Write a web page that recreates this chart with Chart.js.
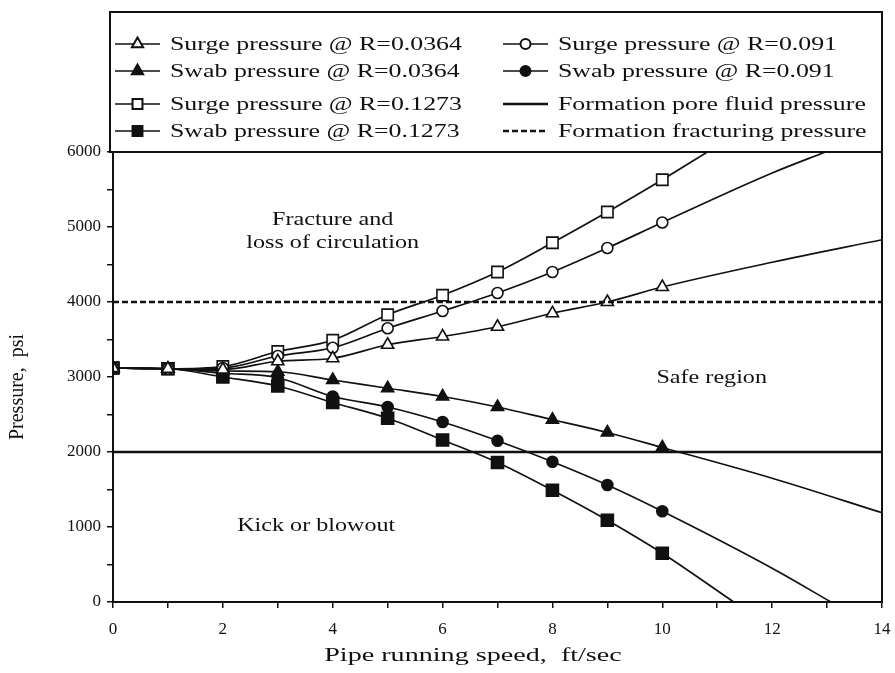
<!DOCTYPE html>
<html>
<head>
<meta charset="utf-8">
<script src="https://cdn.jsdelivr.net/npm/chart.js@4.4.1/dist/chart.umd.min.js"></script>
<style>
  html, body { margin: 0; padding: 0; background: #fff; }
  #wrap { width: 895px; height: 673px; position: relative; }
</style>
</head>
<body>
<div id="wrap"><canvas id="c" width="895" height="673"></canvas></div>
<script>
// pipe running speed, ft/sec (points with markers)
var SPEED = [0, 1, 2, 3, 4, 5, 6, 7, 8, 9, 10];
// pressure, psi
var SURGE_0364 = [3120, 3110, 3100, 3210, 3250, 3430, 3540, 3670, 3850, 4000, 4200];
var SWAB_0364  = [3120, 3110, 3080, 3070, 2960, 2850, 2740, 2600, 2430, 2260, 2060];
var SURGE_091  = [3120, 3110, 3120, 3280, 3390, 3650, 3880, 4120, 4400, 4720, 5060];
var SWAB_091   = [3120, 3110, 3050, 2990, 2740, 2600, 2400, 2150, 1870, 1560, 1210];
var SURGE_1273 = [3120, 3110, 3140, 3340, 3490, 3830, 4090, 4400, 4790, 5200, 5630];
var SWAB_1273  = [3120, 3110, 3000, 2880, 2660, 2450, 2160, 1860, 1490, 1090, 650];
// curve continuations past the last marker [speed, pressure]
var SURGE_0364_TAIL = [[12, 4530], [14, 4830]];
var SWAB_0364_TAIL  = [[12, 1650], [14, 1190]];
var SURGE_091_TAIL  = [[12, 5720], [12.97, 6000]];
var SWAB_091_TAIL   = [[12, 450], [13.07, 0]];
var SURGE_1273_TAIL = [[10.82, 6000]];
var SWAB_1273_TAIL  = [[11.3, 0]];
var PORE_PRESSURE = 2000, FRAC_PRESSURE = 4000;
var X_TICKS = [0, 2, 4, 6, 8, 10, 12, 14];
var Y_TICKS = [0, 1000, 2000, 3000, 4000, 5000, 6000];

var SERIF = '"Liberation Serif", "DejaVu Serif", serif';
var INK = '#111';

function pts(ys, tail) {
  var a = SPEED.map(function (x, i) { return { x: x, y: ys[i] }; });
  tail.forEach(function (t) { a.push({ x: t[0], y: t[1] }); });
  return a;
}
function curve(label, ys, tail, style, open, r) {
  return {
    label: label, data: pts(ys, tail), showLine: true,
    borderColor: INK, borderWidth: 1.7, cubicInterpolationMode: 'monotone',
    pointStyle: style, backgroundColor: open ? '#fff' : INK,
    pointBorderColor: INK, pointBorderWidth: 1.6,
    pointRadius: function (c) { return c.dataIndex < SPEED.length ? r : 0; },
    pointHoverRadius: 0, clip: 0
  };
}
function flat(label, v, dash, w) {
  return { label: label, data: [{ x: 0, y: v }, { x: 14, y: v }], showLine: true,
    borderColor: INK, borderWidth: w, borderDash: dash, pointRadius: 0, clip: 0 };
}

var datasets = [
  flat('Formation pore fluid pressure', PORE_PRESSURE, [], 2.6),
  flat('Formation fracturing pressure', FRAC_PRESSURE, [6, 3], 2.6),
  curve('Surge pressure @ R=0.0364', SURGE_0364, SURGE_0364_TAIL, 'triangle', true, 7),
  curve('Swab pressure @ R=0.0364', SWAB_0364, SWAB_0364_TAIL, 'triangle', false, 7),
  curve('Surge pressure @ R=0.091', SURGE_091, SURGE_091_TAIL, 'circle', true, 5.5),
  curve('Swab pressure @ R=0.091', SWAB_091, SWAB_091_TAIL, 'circle', false, 5.5),
  curve('Surge pressure @ R=0.1273', SURGE_1273, SURGE_1273_TAIL, 'rect', true, 8),
  curve('Swab pressure @ R=0.1273', SWAB_1273, SWAB_1273_TAIL, 'rect', false, 8.5)
];

// legend rows: [dataset label, column, y]
var LEGEND = [
  ['Surge pressure @ R=0.0364', 0, 44], ['Swab pressure @ R=0.0364', 0, 71],
  ['Surge pressure @ R=0.1273', 0, 104], ['Swab pressure @ R=0.1273', 0, 131],
  ['Surge pressure @ R=0.091', 1, 44], ['Swab pressure @ R=0.091', 1, 71],
  ['Formation pore fluid pressure', 1, 104], ['Formation fracturing pressure', 1, 131]
];
var NOTES = [
  ['Fracture and', 4.0, 5090], ['loss of circulation', 4.0, 4780],
  ['Safe region', 10.9, 2990], ['Kick or blowout', 3.7, 1010]
];

// the scan is stretched sideways, so text is drawn wider than the font
function wide(ctx, t, x, y, sx) {
  ctx.save(); ctx.translate(x, y); ctx.scale(sx, 1); ctx.fillText(t, 0, 0); ctx.restore();
}

var frame = {
  id: 'frame',
  afterDraw: function (chart) {
    var ctx = chart.ctx, a = chart.chartArea, xs = chart.scales.x, ys = chart.scales.y;
    ctx.save();
    ctx.strokeStyle = INK; ctx.lineWidth = 2;
    // plot box + legend box
    ctx.strokeRect(a.left, a.top, a.right - a.left, a.bottom - a.top);
    ctx.strokeRect(a.left - 3, 12, a.right - a.left + 3, a.top - 12);
    ctx.fillStyle = INK; ctx.textBaseline = 'middle';
    // notes
    ctx.font = '19px ' + SERIF; ctx.textAlign = 'center';
    NOTES.forEach(function (n) { wide(ctx, n[0], xs.getPixelForValue(n[1]), ys.getPixelForValue(n[2]), 1.27); });
    // axis titles
    wide(ctx, 'Pipe running speed,  ft/sec', 473, 656, 1.48);
    ctx.save(); ctx.translate(18, 387); ctx.rotate(-Math.PI / 2); ctx.font = '20px ' + SERIF;
    ctx.fillText('Pressure,  psi', 0, 0); ctx.restore();
    // legend
    ctx.textAlign = 'left';
    LEGEND.forEach(function (e) {
      var ds = chart.data.datasets.filter(function (d) { return d.label === e[0]; })[0];
      var x0 = e[1] ? 503 : 115, x1 = x0 + 45, y = e[2];
      ctx.save();
      ctx.strokeStyle = INK; ctx.lineWidth = ds.pointStyle ? 1.7 : 2.6;
      ctx.setLineDash(ds.borderDash || []);
      ctx.beginPath(); ctx.moveTo(x0, y); ctx.lineTo(x1, y); ctx.stroke();
      ctx.restore();
      if (ds.pointStyle) {
        ctx.fillStyle = ds.backgroundColor; ctx.strokeStyle = INK;
        var r = ds.pointStyle === 'circle' ? 5 : (ds.pointStyle === 'rect' ? 7 : 6.5);
        Chart.helpers.drawPoint(ctx, { pointStyle: ds.pointStyle, radius: r, borderWidth: 1.6, rotation: 0 }, (x0 + x1) / 2, y);
      }
      ctx.fillStyle = INK;
      wide(ctx, e[0], x1 + 10, y + 1, 1.36);
    });
    ctx.restore();
  }
};

new Chart(document.getElementById('c'), {
  type: 'scatter',
  data: { datasets: datasets },
  options: {
    responsive: false, animation: false, events: [],
    layout: { padding: { left: 0, right: 13, top: 152, bottom: 0 } },
    plugins: { legend: { display: false }, tooltip: { enabled: false } },
    scales: {
      x: {
        type: 'linear', min: 0, max: 14,
        afterFit: function (s) { s.height = 71; s.paddingLeft = 0; s.paddingRight = 0; },
        afterBuildTicks: function (s) { s.ticks = []; for (var v = 0; v <= 14; v++) s.ticks.push({ value: v }); },
        ticks: { color: INK, font: { family: SERIF, size: 17 }, padding: 11, autoSkip: false, maxRotation: 0,
          callback: function (v) { return X_TICKS.indexOf(v) >= 0 ? String(v) : ''; } },
        grid: { drawOnChartArea: false, color: INK, lineWidth: 1.5, tickLength: 6 },
        border: { color: INK, width: 2 }
      },
      y: {
        type: 'linear', min: 0, max: 6000,
        afterFit: function (s) { s.width = 113; s.paddingTop = 0; s.paddingBottom = 0; },
        afterBuildTicks: function (s) { s.ticks = []; for (var v = 0; v <= 6000; v += 500) s.ticks.push({ value: v }); },
        ticks: { color: INK, font: { family: SERIF, size: 17 }, padding: 6, autoSkip: false,
          callback: function (v) { return Y_TICKS.indexOf(v) >= 0 ? String(v) : ''; } },
        grid: { drawOnChartArea: false, color: INK, lineWidth: 1.5, tickLength: 6 },
        border: { color: INK, width: 2 }
      }
    }
  },
  plugins: [frame]
});
</script>
</body>
</html>
